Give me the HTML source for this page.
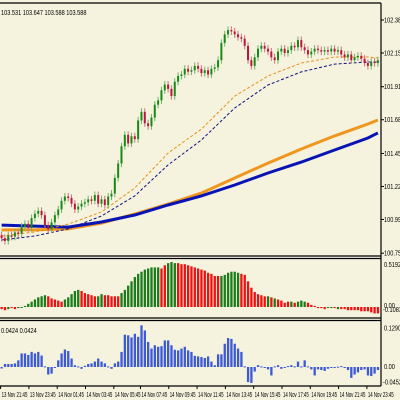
<!DOCTYPE html>
<html><head><meta charset="utf-8"><style>
html,body{margin:0;padding:0;background:#f5f3de;}
svg{display:block;font-family:"Liberation Sans",sans-serif;}
</style></head><body>
<svg id="c" width="400" height="400" viewBox="0 0 400 400">
<rect x="0" y="0" width="400" height="400" fill="#f5f3de"/>
<g id="main"></g>
<g id="sub1"></g>
<g id="sub2"></g>
<g id="frame"></g>
<g id="axes"></g>
</svg>
<script>
const closes=[100.86,100.84,100.88,100.87,100.90,100.89,100.94,100.96,100.93,101.00,101.03,101.05,101.02,100.95,100.92,100.97,101.02,101.06,101.12,101.15,101.14,101.10,101.06,101.08,101.10,101.11,101.13,101.12,101.16,101.10,101.13,101.09,101.15,101.17,101.28,101.38,101.50,101.58,101.52,101.57,101.55,101.68,101.74,101.66,101.64,101.70,101.79,101.82,101.89,101.93,101.90,101.85,101.95,101.99,102.00,102.04,102.02,102.03,102.06,102.04,102.01,102.03,102.00,102.04,102.05,102.10,102.22,102.28,102.31,102.30,102.28,102.26,102.25,102.20,102.10,102.06,102.12,102.18,102.20,102.18,102.16,102.12,102.10,102.16,102.18,102.15,102.17,102.20,102.19,102.24,102.19,102.17,102.14,102.16,102.18,102.17,102.16,102.17,102.16,102.18,102.16,102.17,102.14,102.12,102.14,102.10,102.12,102.13,102.11,102.08,102.06,102.09,102.08,102.10];
const maIdx=[0,10,20,30,40,50,60,70,80,90,100,110,113];
const maSlowBlue=[100.951,100.944,100.937,100.972,101.021,101.091,101.154,101.230,101.314,101.390,101.474,101.558,101.593];
const maSlowOrange=[100.917,100.917,100.924,100.965,101.028,101.098,101.174,101.279,101.383,101.481,101.572,101.655,101.683];
const maFastOrange=[100.875,100.903,100.958,101.042,101.209,101.453,101.620,101.850,101.990,102.080,102.122,102.122,102.115];
const maFastBlue=[100.847,100.875,100.924,101.014,101.154,101.370,101.544,101.767,101.927,102.018,102.073,102.087,102.087];
const priceTicks=[102.380,102.150,101.915,101.685,101.450,101.220,100.990,100.755];
const hist1=[-0.02,-0.03,-0.02,-0.01,-0.02,-0.01,0.0,0.01,0.03,0.05,0.07,0.09,0.10,0.11,0.10,0.08,0.07,0.06,0.05,0.07,0.09,0.12,0.15,0.16,0.15,0.13,0.12,0.11,0.10,0.10,0.12,0.11,0.11,0.10,0.10,0.10,0.13,0.16,0.20,0.24,0.28,0.31,0.33,0.35,0.36,0.37,0.37,0.37,0.36,0.39,0.41,0.42,0.41,0.41,0.40,0.40,0.39,0.38,0.37,0.36,0.35,0.34,0.32,0.31,0.29,0.29,0.29,0.30,0.32,0.33,0.33,0.32,0.31,0.30,0.24,0.18,0.14,0.12,0.11,0.10,0.10,0.09,0.08,0.07,0.06,0.04,0.05,0.05,0.04,0.05,0.06,0.05,0.04,0.02,0.01,-0.01,-0.01,-0.02,-0.01,-0.01,-0.01,-0.02,-0.02,-0.02,-0.03,-0.03,-0.03,-0.03,-0.04,-0.04,-0.04,-0.05,-0.06,-0.06];
const hist1Colors="rrgrrgggggggggrrrrrgggggrrrrrggrrrrrggggggggggggrrgggrrrrrrrrrrrrrggggggrrrrrrrrgrgrrrrgrgggrrrrrrggrgrrrrrrrrrrrrr";
const hist1Ticks=[0.5192,0.00,-0.1083];
const hist2=[-0.005,0.01,0.01,0.01,0.012,0.022,0.045,0.045,0.04,0.05,0.045,0.05,0.038,0.002,-0.025,-0.022,-0.003,0.022,0.045,0.058,0.053,0.028,0.006,0.002,-0.006,0.004,0.01,0.012,0.018,0.028,0.018,0.012,0.002,-0.006,0.012,0.018,0.05,0.107,0.105,0.098,0.11,0.10,0.138,0.121,0.083,0.061,0.072,0.067,0.069,0.088,0.088,0.072,0.057,0.055,0.061,0.067,0.055,0.05,0.037,0.035,0.033,0.03,0.035,0.018,0.006,0.042,0.042,0.077,0.096,0.093,0.077,0.061,0.05,0.002,-0.05,-0.053,-0.015,0.006,0.002,-0.003,-0.008,-0.028,0.002,0.006,-0.006,-0.001,0.003,0.006,0.002,0.018,0.002,0.022,0.002,-0.008,-0.028,-0.008,-0.01,-0.013,-0.006,-0.003,-0.001,0.001,0.003,-0.003,-0.01,-0.036,-0.025,-0.018,-0.01,-0.008,-0.028,-0.03,-0.022,-0.01];
const hist2Ticks=[0.1290,0.00,-0.0452];
const timeLabels=["13 Nov 21:45","13 Nov 23:45","14 Nov 01:45","14 Nov 03:45","14 Nov 05:45","14 Nov 07:45","14 Nov 09:45","14 Nov 11:45","14 Nov 13:45","14 Nov 15:45","14 Nov 17:45","14 Nov 19:45","14 Nov 21:45","14 Nov 23:45"];
const timeLabelBars=[0,8.5,17,25.5,34,42,50.5,59,67.5,76,84.5,93,101.5,110];

const NS="http://www.w3.org/2000/svg";
function mk(tag,attrs,parent){const e=document.createElementNS(NS,tag);for(const k in attrs)e.setAttribute(k,attrs[k]);parent.appendChild(e);return e;}
const xOf=i=>1.6+i*3.33;
const yP=p=>20+(102.38-p)*143.5;
const y1=v=>307-v*107;
const y2=v=>367-v*302;
const main=document.getElementById('main'),sub1=document.getElementById('sub1'),sub2=document.getElementById('sub2'),frame=document.getElementById('frame'),axes=document.getElementById('axes');

function drawMA(arr,color,w,dash,name){
  const pts=maIdx.map((b,k)=>xOf(b).toFixed(1)+','+yP(arr[k]).toFixed(1)).join(' ');
  const l=mk('polyline',{points:pts,fill:'none',stroke:color,'stroke-width':w},main);
  if(dash)l.setAttribute('stroke-dasharray',dash);
  
  
}
drawMA(maSlowOrange,'#f0961e',3,null,'slow-ma-orange');
drawMA(maSlowBlue,'#0a14b4',3,null,'slow-ma-blue');
drawMA(maFastOrange,'#e8901a',1,'3,2','fast-ma-orange');
drawMA(maFastBlue,'#101080',1,'3,2','fast-ma-blue');

closes.forEach((c,i)=>{
  const o=i===0?c+0.02:closes[i-1];
  const up=c>=o;
  const hi=Math.max(o,c)+0.025, lo=Math.min(o,c)-0.025;
  const x=xOf(i);
  const col=up?'#178a17':'#c0143c';
  const w=mk('line',{x1:x,x2:x,y1:yP(hi),y2:yP(lo),stroke:up?'#6ab46a':'#d07080','stroke-width':1},main);
  
  
  const t=Math.min(yP(o),yP(c)),h=Math.max(1,Math.abs(yP(o)-yP(c)));
  const b=mk('rect',{x:x-1,y:t,width:2,height:h,fill:col},main);
  
  
});

hist1.forEach((v,i)=>{
  const x=xOf(i),y=y1(v),z=y1(0);
  const r=mk('rect',{x:x-1.1,y:Math.min(y,z),width:2.3,height:Math.max(1,Math.abs(y-z)),fill:hist1Colors[i]==='g'?'#1a7d1a':'#f01010'},sub1);
  
  
});
hist2.forEach((v,i)=>{
  const x=xOf(i),y=y2(v),z=y2(0);
  const r=mk('rect',{x:x-1.1,y:Math.min(y,z),width:2.3,height:Math.max(1,Math.abs(y-z)),fill:'#3c5ad8'},sub2);
  
  
});

[[0,3,381,3],[0,256,381,256],[0,258.5,381,258.5],[0,318,381,318],[0,320.5,381,320.5],[0,386,381,386],[381,3,381,386]].forEach(a=>{
  const l=mk('line',{x1:a[0],y1:a[1],x2:a[2],y2:a[3],stroke:'#000','stroke-width':1.2},frame);
  
  
});

function txt(s,x,y,name,sx){
  sx=sx||0.8;
  const t=mk('text',{x:x,y:y,'font-size':7,fill:'#000',transform:`translate(${x},0) scale(${sx},1) translate(${-x},0)`},axes);
  t.textContent=s;
  
  
  return t;
}
priceTicks.forEach(p=>{const y=yP(p);mk('line',{x1:381,x2:384,y1:y,y2:y,stroke:'#000'},axes);txt(p.toFixed(3),384,y+2.5,'price-tick-label');});
txt(hist1Ticks[0].toFixed(4),384,267,'trend-tick-label');
txt(hist1Ticks[1].toFixed(2),384,y1(hist1Ticks[1])+1,'trend-tick-label');
txt(hist1Ticks[2].toFixed(4),383,y1(0)+5,'trend-tick-label');
txt(hist2Ticks[0].toFixed(4),384,y2(hist2Ticks[0])+2.5,'momentum-tick-label');
txt(hist2Ticks[1].toFixed(2),384,y2(hist2Ticks[1])+2,'momentum-tick-label');
txt(hist2Ticks[2].toFixed(4),383,y2(hist2Ticks[2])+4,'momentum-tick-label');
txt('103.531 103.647 103.588 103.588',1,15,'ohlc-header');
txt('0.0424 0.0424',1,333,'momentum-header');
timeLabels.forEach((s,k)=>{const x=xOf(timeLabelBars[k])-1;mk('line',{x1:x,x2:x,y1:386,y2:389,stroke:'#000'},axes);txt(s,x+1,397,'time-axis-label',0.62);});
</script>
</body></html>
